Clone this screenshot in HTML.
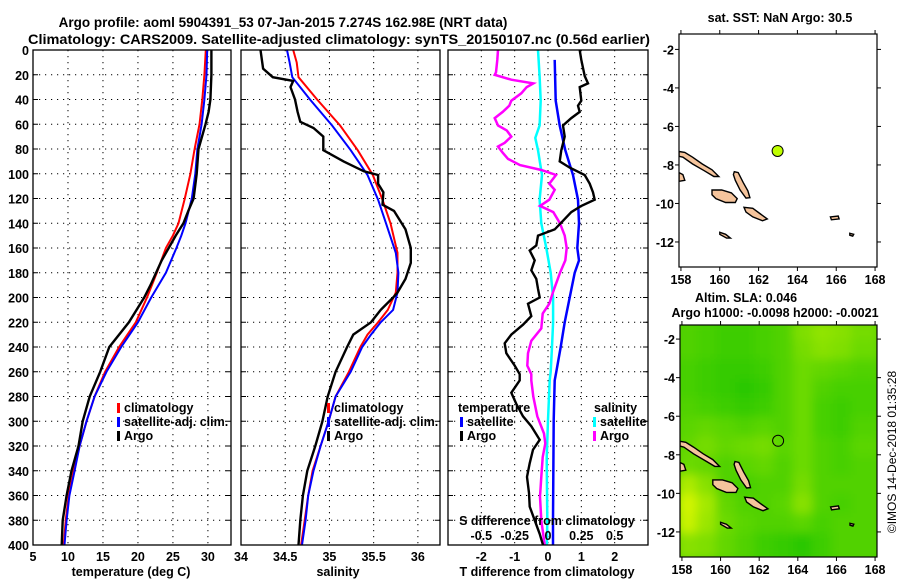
<!DOCTYPE html>
<html><head><meta charset="utf-8"><style>
html,body{margin:0;padding:0;background:#fff;}
svg{display:block;font-family:"Liberation Sans",Arial,sans-serif;font-weight:bold;}
</style></head><body>
<svg id="fig" width="900" height="580" viewBox="0 0 900 580" xmlns="http://www.w3.org/2000/svg">
<defs>
<clipPath id="cp1"><rect x="33" y="50" width="198" height="495"/></clipPath>
<clipPath id="cp2"><rect x="241" y="50" width="199" height="495"/></clipPath>
<clipPath id="cp3"><rect x="448" y="50" width="200" height="495"/></clipPath>
<clipPath id="cpm1"><rect x="679" y="34" width="198" height="233"/></clipPath>
<clipPath id="cpm2"><rect x="680" y="325" width="197" height="232"/></clipPath>
<filter id="blur" x="-10%" y="-10%" width="120%" height="120%"><feGaussianBlur stdDeviation="5"/></filter>
</defs>
<rect x="0" y="0" width="900" height="580" fill="#fff"/>
<text x="283" y="27" font-size="13.5" text-anchor="middle">Argo profile: aoml 5904391_53 07-Jan-2015 7.274S 162.98E (NRT data)</text>
<text x="28" y="44" font-size="13.5" textLength="622" lengthAdjust="spacingAndGlyphs">Climatology: CARS2009. Satellite-adjusted climatology: synTS_20150107.nc (0.56d earlier)</text>
<g id="layer"></g>
</svg>
<script>
// ---------- data ----------
const depthGridTicks = [0,20,40,60,80,100,120,140,160,180,200,220,240,260,280,300,320,340,360,380,400];
// temperature panel
const tempTicks = [5,10,15,20,25,30];
const tempClimDepth = [0,20,40,60,80,100,120,140,150,160,180,200,220,240,260,280,300,320,340,360,380,400];
const tempClim = [29.7,29.5,29.2,28.8,28.1,27.5,26.7,25.8,25.0,24.0,22.7,21.3,19.7,17.3,15.3,13.8,12.65,11.66,10.8,10.1,9.67,9.4];
const tempSat = [29.9,29.8,29.5,29.1,28.5,28.2,27.7,26.8,26.2,25.5,24.0,21.9,20.0,17.6,15.5,13.8,12.65,11.66,10.95,10.2,9.8,9.5];
const tempArgoDepth = [0,20,40,50,60,80,100,120,130,140,150,160,170,180,190,200,220,240,260,280,300,320,340,360,380,400];
const tempArgo = [30.5,30.5,30.35,30.1,29.65,28.65,28.4,27.95,27.2,26.5,25.4,24.4,23.4,22.6,21.8,20.9,18.7,15.9,14.6,13.1,12.1,11.5,10.5,9.8,9.25,9.1];
// salinity panel
const salTicks = [34,34.5,35,35.5,36];
const salClimDepth = [0,10,22,40,61,81,101,121,140,164,180,196,210,220,230,240,260,280,300,320,340,360,380,400];
const salClim = [34.59,34.63,34.65,34.86,35.12,35.32,35.49,35.6,35.69,35.77,35.77,35.75,35.66,35.55,35.43,35.35,35.22,35.07,34.99,34.9,34.81,34.76,34.72,34.68];
const salSat = [34.52,34.55,34.58,34.78,35.03,35.24,35.43,35.55,35.64,35.75,35.78,35.77,35.72,35.58,35.47,35.37,35.24,35.07,34.99,34.9,34.82,34.76,34.73,34.69];
const salArgoDepth = [0,15,22,25,30,40,50,58,63,70,81,90,98,101,108,115,125,130,145,160,172,185,196,200,210,220,230,240,260,280,300,320,340,360,380,400];
const salArgo = [34.22,34.25,34.36,34.59,34.56,34.61,34.64,34.67,34.82,34.93,34.93,35.16,35.39,35.55,35.55,35.61,35.6,35.73,35.86,35.92,35.92,35.86,35.77,35.72,35.58,35.47,35.27,35.2,35.07,34.98,34.92,34.84,34.75,34.7,34.67,34.65];
// difference panel
const tDiffTicks = [-2,-1,0,1,2];
const sDiffTicks = [-0.5,-0.25,0,0.25,0.5];
const sDiffTickLabels = ["-0.5","-0.25","0","0.25","0.5"];
const dTSatDepth = [8,41,61,81,101,121,140,160,170,180,200,220,240,260,267,299,380,400];
const dTSat = [0.2,0.23,0.35,0.52,0.75,0.9,0.93,0.88,0.93,0.8,0.65,0.5,0.38,0.25,0.2,0.17,0.15,0.15];
const dTArgoDepth = [0,8,21,27,30,41,45,50,55,61,70,81,90,95,101,108,115,121,126,131,138,145,150,158,162,170,178,185,193,200,205,215,222,230,237,245,255,262,267,277,286,296,304,315,323,334,345,358,369,380,391,400];
const dTArgo = [0.95,1.0,1.1,1.2,0.95,1.0,0.9,0.95,0.7,0.45,0.5,0.4,0.35,0.65,1.1,1.25,1.35,1.4,1.0,0.7,0.45,0.2,-0.3,-0.35,-0.55,-0.4,-0.5,-0.35,-0.3,-0.25,-0.6,-0.5,-0.75,-1.1,-1.3,-1.25,-1.0,-0.85,-0.85,-1.1,-0.95,-0.75,-0.5,-0.25,-0.45,-0.55,-0.63,-0.57,-0.55,-0.4,-0.25,-0.15];
const dSSatDepth = [0,21,41,61,71,81,101,121,140,160,180,200,220,240,260,267,299,330,380,400];
const dSSat = [-0.075,-0.063,-0.055,-0.063,-0.095,-0.075,-0.045,-0.063,-0.05,-0.013,0.02,0.038,0.038,0.03,0.02,0.013,0,-0.01,-0.005,-0.008];
const dSArgoDepth = [0,8,18,20,24,27,30,35,41,45,50,55,61,65,70,75,78,83,88,93,97,101,108,113,121,126,131,140,150,160,170,180,195,205,213,225,235,245,255,262,267,280,296,310,318,329,345,361,380,400];
const dSArgo = [-0.375,-0.38,-0.39,-0.4,-0.275,-0.11,-0.16,-0.2,-0.275,-0.29,-0.34,-0.4,-0.375,-0.31,-0.275,-0.325,-0.375,-0.34,-0.3,-0.21,-0.05,0.06,0.01,0.05,0.01,-0.06,0.04,0.09,0.125,0.14,0.13,0.09,0.04,0.01,-0.04,-0.05,-0.125,-0.15,-0.155,-0.125,-0.125,-0.11,-0.08,-0.03,-0.02,-0.04,-0.05,-0.06,-0.05,-0.025];
// maps
const lonTicks = [158,160,162,164,166,168];
const latTicks = [-2,-4,-6,-8,-10,-12];
const floatLon = 162.98;
const floatLat = -7.274;
const slaRowLats = [-1.2,-2.2,-3.2,-4.2,-5.2,-6.2,-7.2,-8.2,-9.2,-10.2,-11.2,-12.2,-13.3];
const slaColLons = [157.9,158.9,159.9,160.9,161.9,162.9,163.9,164.9,165.9,166.9,168.1];
const slaGrid = [
 [0.3,0.25,0.2,0.2,0.25,0.3,0.55,0.65,0.6,0.5],
 [0.3,0.25,0.2,0.2,0.25,0.3,0.5,0.6,0.55,0.45],
 [0.25,0.2,0.15,0.15,0.2,0.3,0.45,0.4,0.35,0.3],
 [0.25,0.2,0.15,0.1,0.15,0.3,0.45,0.3,0.25,0.25],
 [0.3,0.25,0.2,0.15,0.2,0.3,0.45,0.25,0.2,0.25],
 [0.35,0.4,0.35,0.3,0.35,0.3,0.45,0.25,0.2,0.3],
 [0.4,0.5,0.4,0.45,0.5,0.35,0.45,0.3,0.25,0.35],
 [0.45,0.4,0.3,0.35,0.4,0.3,0.45,0.3,0.25,0.3],
 [0.8,0.6,0.3,0.25,0.3,0.3,0.5,0.3,0.3,0.3],
 [1.0,0.75,0.4,0.3,0.3,0.35,0.6,0.3,0.25,0.3],
 [0.95,0.7,0.45,0.35,0.3,0.3,0.35,0.25,0.3,0.3],
 [0.6,0.55,0.4,0.3,0.2,0.15,0.1,0.2,0.3,0.3]
];
const islands = [
 {name:'santa-isabel', pts:[[157.9,-7.3],[158.2,-7.35],[158.6,-7.6],[159.1,-7.95],[159.6,-8.25],[159.95,-8.6],[159.7,-8.6],[159.2,-8.3],[158.6,-7.95],[158.1,-7.6],[157.9,-7.55]]},
 {name:'guadalcanal', pts:[[159.6,-9.3],[160.1,-9.3],[160.6,-9.45],[160.9,-9.75],[160.8,-9.95],[160.3,-9.95],[159.8,-9.75],[159.6,-9.55]]},
 {name:'malaita', pts:[[160.75,-8.35],[160.95,-8.4],[161.2,-8.9],[161.45,-9.35],[161.55,-9.7],[161.35,-9.72],[161.05,-9.3],[160.8,-8.8],[160.7,-8.5]]},
 {name:'makira', pts:[[161.25,-10.2],[161.7,-10.25],[162.1,-10.55],[162.45,-10.8],[162.2,-10.9],[161.7,-10.7],[161.35,-10.45]]},
 {name:'new-georgia', pts:[[157.9,-8.4],[158.1,-8.5],[158.2,-8.8],[157.9,-8.85]]},
 {name:'rennell', pts:[[160.0,-11.5],[160.3,-11.6],[160.55,-11.8],[160.35,-11.8],[160.0,-11.6]]},
 {name:'santa-cruz', pts:[[165.7,-10.7],[166.1,-10.65],[166.15,-10.8],[165.75,-10.85]]},
 {name:'vanikoro', pts:[[166.7,-11.55],[166.9,-11.6],[166.85,-11.7],[166.7,-11.65]]}
];

// ---------- helpers ----------
const NS='http://www.w3.org/2000/svg';
const layer=document.getElementById('layer');
function mk(tag, attrs, parent){const e=document.createElementNS(NS,tag);for(const k in attrs)e.setAttribute(k,attrs[k]);(parent||layer).appendChild(e);return e;}
const yTop=50, yBot=545;
function yDepth(d){return yTop+(d/400)*(yBot-yTop);}
function xLin(v,v0,v1,x0,x1){return x0+(v-v0)/(v1-v0)*(x1-x0);}

function panel(x0,x1,name){
  const g=mk('g',{});
  
  
  return g;
}
function frame(g,x0,x1,y0,y1){
  const r=mk('rect',{x:x0,y:y0,width:x1-x0,height:y1-y0,fill:'none',stroke:'#000','stroke-width':1.3},g);
  
  
}
function hgrid(g,x0,x1){
  depthGridTicks.forEach(d=>{
    if(d===0||d===400)return;
    const y=yDepth(d);
    const l=mk('line',{x1:x0,x2:x1,y1:y,y2:y,stroke:'#000','stroke-width':1,'stroke-dasharray':'1.2,4.8'},g);
    
    
    mk('line',{x1:x0,x2:x0+5,y1:y,y2:y,stroke:'#000','stroke-width':1},g);
    mk('line',{x1:x1-5,x2:x1,y1:y,y2:y,stroke:'#000','stroke-width':1},g);
  });
}
function vgrid(g,xs){
  xs.forEach(x=>{
    const l=mk('line',{x1:x,x2:x,y1:yTop,y2:yBot,stroke:'#000','stroke-width':1,'stroke-dasharray':'1.2,4.8'},g);
    
    
  });
}
function line(g,depths,vals,xf,color,w,name,clip){
  const pts=depths.map((d,i)=>xf(vals[i]).toFixed(1)+','+yDepth(d).toFixed(1)).join(' ');
  const p=mk('polyline',{points:pts,fill:'none',stroke:color,'stroke-width':w,'stroke-linejoin':'miter','clip-path':'url(#'+clip+')'},g);
  
  
}
function txt(g,x,y,s,size,anchor,name){
  const t=mk('text',{x:x,y:y,'font-size':size,'text-anchor':anchor||'start'},g);
  t.textContent=s;
  
  
  return t;
}
function legendEntry(g,x,y,color,label){
  const r=mk('rect',{x:x,y:y-9,width:3,height:10,fill:color},g);
  
  
  txt(g,x+7,y,label,12.5,'start','legend-entry');
}

// ---------- panel 1: temperature ----------
const xT=v=>xLin(v,5,33.3,33,231);
const p1=panel(33,231,'temperature-panel');
vgrid(p1,tempTicks.slice(1).map(xT));
hgrid(p1,33,231);
line(p1,tempClimDepth,tempClim,xT,'#ff0000',2,'temperature-climatology-line','cp1');
line(p1,tempClimDepth,tempSat,xT,'#0000ff',2,'temperature-satellite-line','cp1');
line(p1,tempArgoDepth,tempArgo,xT,'#000000',2.4,'temperature-argo-line','cp1');
frame(p1,33,231,yTop,yBot);
depthGridTicks.forEach(d=>txt(p1,29,yDepth(d)+5,String(d),12.5,'end','depth-tick-label'));
tempTicks.forEach(v=>txt(p1,xT(v),561,String(v),12.5,'middle','temperature-tick-label'));
txt(p1,131,576,'temperature (deg C)',12.5,'middle','x-axis-title-temperature');
legendEntry(p1,117,412,'#ff0000','climatology');
legendEntry(p1,117,426,'#0000ff','satellite-adj. clim.');
legendEntry(p1,117,440,'#000000','Argo');

// ---------- panel 2: salinity ----------
const xS=v=>xLin(v,34,36.25,241,440);
const p2=panel(241,440,'salinity-panel');
vgrid(p2,salTicks.slice(1).map(xS));
hgrid(p2,241,440);
line(p2,salClimDepth,salClim,xS,'#ff0000',2,'salinity-climatology-line','cp2');
line(p2,salClimDepth,salSat,xS,'#0000ff',2,'salinity-satellite-line','cp2');
line(p2,salArgoDepth,salArgo,xS,'#000000',2.4,'salinity-argo-line','cp2');
frame(p2,241,440,yTop,yBot);
salTicks.forEach(v=>txt(p2,xS(v),561,String(v),12.5,'middle','salinity-tick-label'));
txt(p2,338,576,'salinity',12.5,'middle','x-axis-title-salinity');
legendEntry(p2,327,412,'#ff0000','climatology');
legendEntry(p2,327,426,'#0000ff','satellite-adj. clim.');
legendEntry(p2,327,440,'#000000','Argo');

// ---------- panel 3: differences ----------
const xD=v=>xLin(v,-3,3,448,648);
const xDS=v=>xLin(v,-0.75,0.75,448,648);
const p3=panel(448,648,'difference-panel');
vgrid(p3,tDiffTicks.map(xD));
hgrid(p3,448,648);
line(p3,dSSatDepth,dSSat,xDS,'#00ffff',2.5,'salinity-diff-satellite-line','cp3');
line(p3,dSArgoDepth,dSArgo,xDS,'#ff00ff',2.5,'salinity-diff-argo-line','cp3');
line(p3,dTSatDepth,dTSat,xD,'#0000ff',2.5,'temperature-diff-satellite-line','cp3');
line(p3,dTArgoDepth,dTArgo,xD,'#000000',2.4,'temperature-diff-argo-line','cp3');
frame(p3,448,648,yTop,yBot);
tDiffTicks.forEach(v=>txt(p3,xD(v),561,String(v),12.5,'middle','t-diff-tick-label'));
sDiffTicks.forEach((v,i)=>txt(p3,xDS(v),540,sDiffTickLabels[i],12.5,'middle','s-diff-tick-label'));
txt(p3,547,525,'S difference from climatology',12.5,'middle','s-diff-axis-title');
txt(p3,547,576,'T difference from climatology',12.5,'middle','t-diff-axis-title');
txt(p3,458,412,'temperature',12.5,'start','legend-title-temperature');
legendEntry(p3,460,426,'#0000ff','satellite');
legendEntry(p3,460,440,'#000000','Argo');
txt(p3,594,412,'salinity',12.5,'start','legend-title-salinity');
legendEntry(p3,593,426,'#00ffff','satellite');
legendEntry(p3,593,440,'#ff00ff','Argo');

// ---------- maps ----------
function drawMap(x0,x1,y0,y1,latTop,latBot,clip,name,withSla,filledMarker){
  const g=panel(x0,x1,name);
  const mx=v=>xLin(v,157.9,168.1,x0,x1);
  const my=v=>xLin(v,latTop,latBot,y0,y1);
  if(withSla){
    const hg=mk('g',{'clip-path':'url(#'+clip+')'},g);
    mk('rect',{x:x0,y:y0,width:x1-x0,height:y1-y0,fill:'rgb(70,205,0)'},hg);
    const bl=mk('g',{filter:'url(#blur)'},hg);
    slaGrid.forEach((row,r)=>row.forEach((v,c)=>{
      const R=Math.round(25+v*185), G=Math.round(195+v*50);
      const xa=mx(slaColLons[c]), xb=mx(slaColLons[c+1]), ya=my(slaRowLats[r]), yb=my(slaRowLats[r+1]);
      const cell=mk('rect',{x:xa-3,y:ya-3,width:xb-xa+6,height:yb-ya+6,fill:'rgb('+R+','+G+',0)'},bl);
      
      
    }));
  }
  const ig=mk('g',{'clip-path':'url(#'+clip+')'},g);
  islands.forEach(isl=>{
    const p=mk('polygon',{points:isl.pts.map(q=>mx(q[0]).toFixed(1)+','+my(q[1]).toFixed(1)).join(' '),fill:'#f5c49c',stroke:'#000','stroke-width':1.4},ig);
    
    
  });
  const c=mk('circle',{cx:mx(floatLon),cy:my(floatLat),r:5.5,fill:filledMarker?'#bfff00':'none',stroke:'#000','stroke-width':1},g);
  
  
  const r=mk('rect',{x:x0,y:y0,width:x1-x0,height:y1-y0,fill:'none',stroke:'#000','stroke-width':1.2},g);
  
  
  latTicks.forEach(v=>{
    const y=my(v);
    mk('line',{x1:x0-4,x2:x0,y1:y,y2:y,stroke:'#000'},g);
    mk('line',{x1:x1,x2:x1+4,y1:y,y2:y,stroke:'#000'},g);
    txt(g,x0-5,y+5,String(v),12.5,'end','latitude-tick-label');
  });
  lonTicks.forEach(v=>{
    const x=mx(v);
    mk('line',{x1:x,x2:x,y1:y0-4,y2:y0,stroke:'#000'},g);
    mk('line',{x1:x,x2:x,y1:y1,y2:y1+4,stroke:'#000'},g);
    txt(g,x,y1+17,String(v),12.5,'middle','longitude-tick-label');
  });
  return g;
}
const m1=drawMap(679,877,34,267,-1.2,-13.3,'cpm1','sst-map',false,true);
txt(m1,780,22,'sat. SST: NaN Argo: 30.5',12.5,'middle','sst-map-title');
const m2=drawMap(680,877,325,557,-1.27,-13.3,'cpm2','sla-map',true,false);
txt(m2,746,302,'Altim. SLA: 0.046',12.5,'middle','sla-map-title');
txt(m2,775,317,'Argo h1000: -0.0098 h2000: -0.0021',12.5,'middle','sla-map-subtitle');
const cr=txt(m2,0,0,'©IMOS 14-Dec-2018 01:35:28',12,'middle','copyright-label');
cr.setAttribute('font-weight','normal');
cr.setAttribute('transform','translate(896,452) rotate(-90)');
</script>
</body></html>
